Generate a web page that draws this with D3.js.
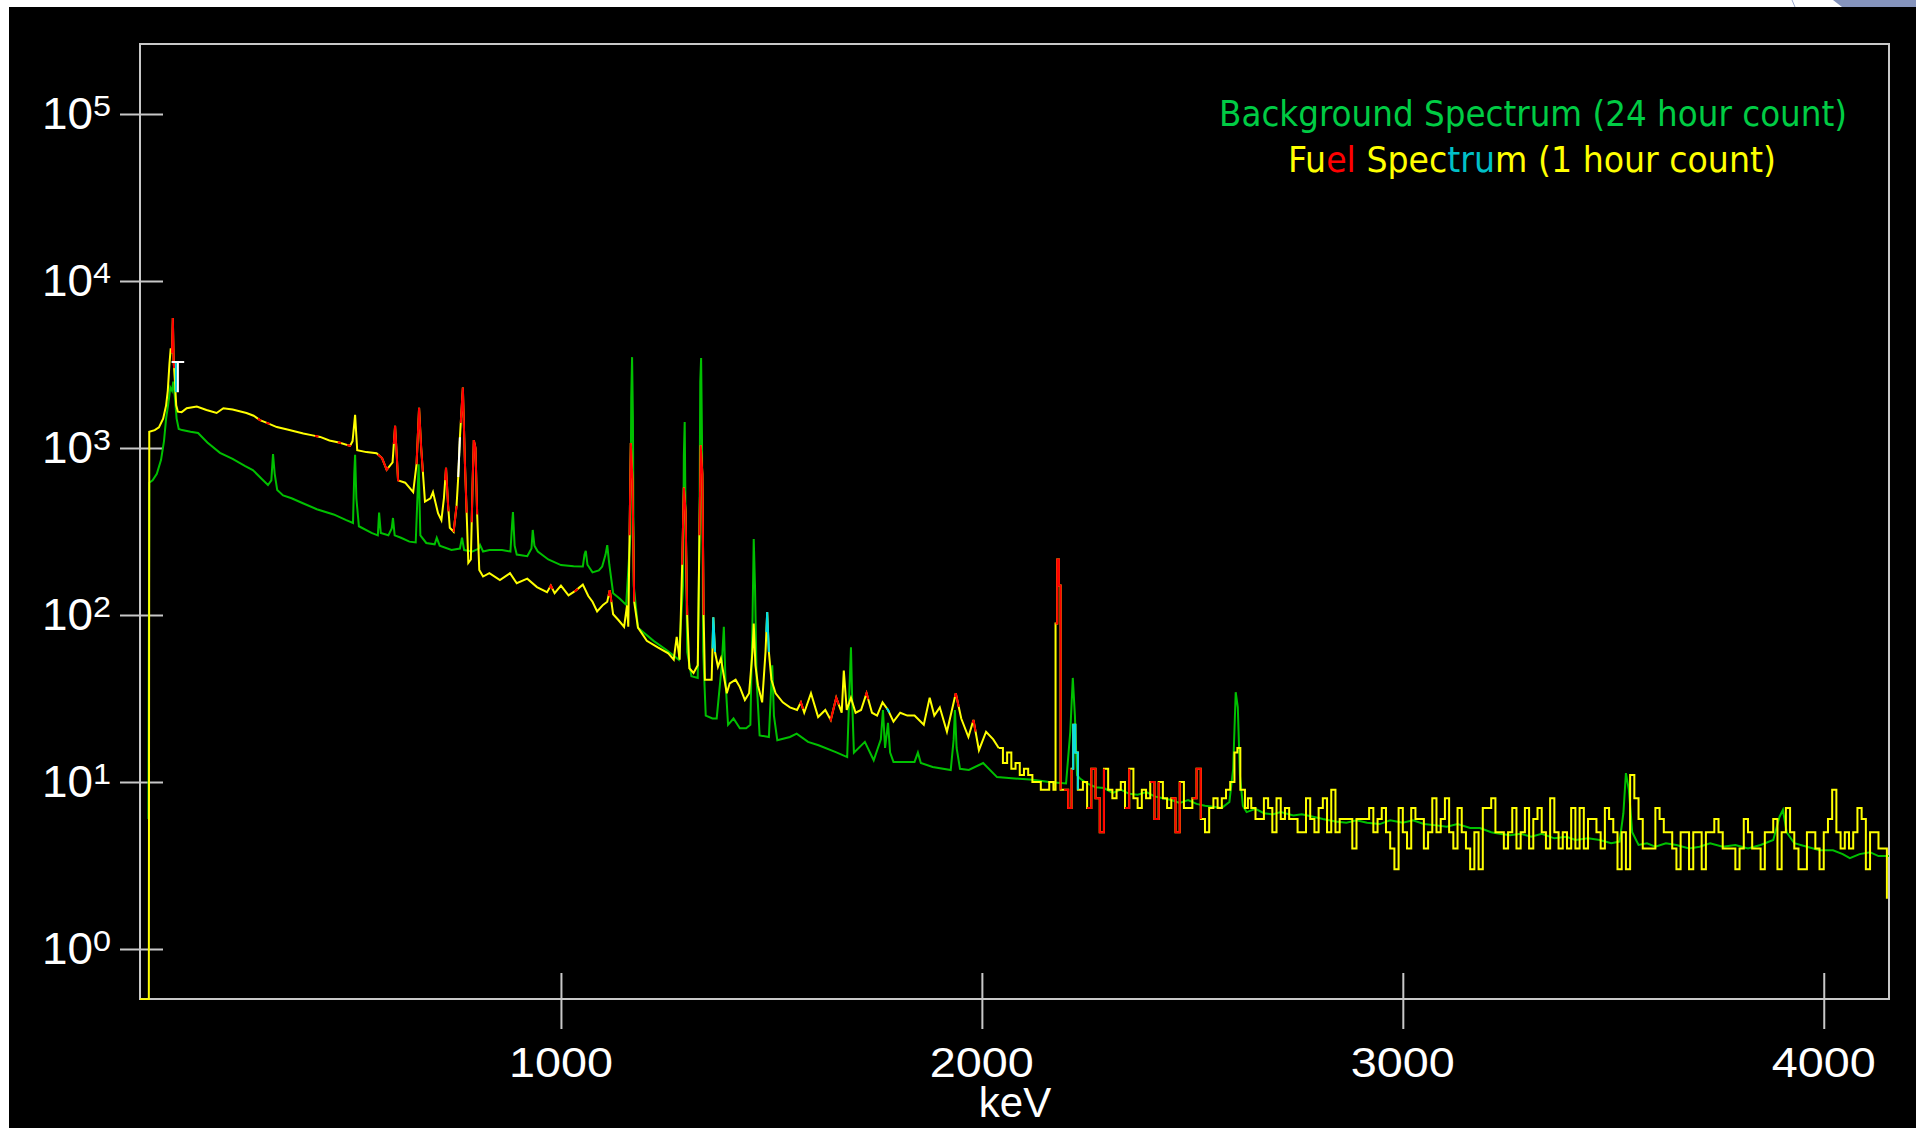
<!DOCTYPE html>
<html>
<head>
<meta charset="utf-8">
<script src="https://cdn.jsdelivr.net/npm/d3@7"></script>
<style>
  html, body { margin: 0; padding: 0; background: #ffffff; overflow: hidden; }
  svg { display: block; }
</style>
</head>
<body>
<div id="chart"></div>
<script>
// axis ticks
const xTicks = [1000, 2000, 3000, 4000]
const yExponents = [0, 1, 2, 3, 4, 5]
const xLabel = 'keV'

// legend
const legendBackground = 'Background Spectrum (24 hour count)'
const legendFuel = [
  ['Fu', 'yellow'], ['el', 'red'], [' Spec', 'yellow'], ['tru', 'cyan'], ['m (1 hour count)', 'yellow']
]

// background spectrum, [keV, counts]
const background = [
  [20, 6], [22, 620], [30, 640], [40, 700], [50, 850], [57, 1100], [62, 1500], [68, 1900], [72, 2300],
  [76, 2200], [79, 2500], [83, 2000], [87, 1500], [92, 1300], [100, 1280], [120, 1250], [138, 1230],
  [160, 1080], [190, 935], [220, 860], [250, 780], [268, 738], [290, 650], [304, 600], [312, 640],
  [316, 920], [320, 700], [326, 560], [340, 520], [360, 500], [387, 467], [420, 430], [460, 400],
  [490, 370], [506, 356], [509, 700], [511, 910], [514, 500], [520, 340], [550, 310], [565, 300],
  [568, 410], [572, 310], [590, 300], [598, 330], [601, 381], [605, 300], [620, 290], [640, 275],
  [655, 272], [659, 500], [662, 800], [666, 300], [680, 270], [700, 265], [705, 290], [712, 260],
  [740, 245], [760, 250], [765, 290], [770, 245], [790, 240], [805, 250], [808, 262], [815, 240],
  [830, 245], [860, 245], [880, 240], [884, 350], [886, 414], [890, 260], [895, 230], [920, 225],
  [930, 250], [933, 323], [937, 260], [945, 240], [970, 215], [1000, 199], [1030, 196], [1052, 195],
  [1056, 230], [1059, 242], [1063, 200], [1075, 180], [1090, 185], [1098, 195], [1106, 230], [1110, 262],
  [1115, 200], [1124, 135], [1140, 125], [1155, 115], [1165, 300], [1167, 2000], [1169, 3500],
  [1171, 1500], [1173, 150], [1183, 84], [1220, 70], [1250, 62], [1280, 54], [1290, 150], [1292, 900],
  [1294, 1430], [1296, 400], [1300, 60], [1310, 43], [1325, 42], [1329, 300], [1331, 2500], [1333, 3460],
  [1335, 1200], [1338, 60], [1344, 25], [1360, 24], [1370, 24], [1382, 50], [1387, 85], [1391, 40],
  [1397, 22], [1410, 24], [1425, 21], [1440, 21], [1450, 22], [1455, 90], [1458, 285], [1461, 150],
  [1465, 40], [1472, 19], [1494, 18.6], [1499, 35], [1502, 50], [1506, 25], [1514, 17.8], [1544, 18.6],
  [1560, 19.5], [1587, 17.4], [1612, 16.6], [1653, 15.1], [1680, 14.1], [1686, 40], [1689, 64],
  [1692, 30], [1696, 15], [1722, 17.4], [1743, 13.5], [1760, 18], [1765, 27], [1770, 16], [1777, 22.6],
  [1782, 15], [1790, 13.2], [1840, 13.2], [1848, 15], [1855, 13], [1883, 12.3], [1926, 11.8],
  [1933, 18], [1936, 27], [1940, 16], [1948, 12], [1969, 11.8], [2003, 13], [2036, 10.7], [2078, 10.5],
  [2121, 10.3], [2160, 10], [2200, 9.8], [2210, 20], [2216, 42], [2221, 25], [2226, 11], [2233, 10.5],
  [2250, 9.8], [2270, 9.3], [2290, 9.2], [2311, 8.6], [2330, 9.0], [2350, 8.5], [2370, 8.4], [2391, 8.7],
  [2410, 8.2], [2430, 8.0], [2450, 7.8], [2470, 7.5], [2490, 7.8], [2510, 7.4], [2530, 7.2], [2549, 7.1],
  [2570, 7.0], [2588, 7.6], [2597, 12], [2603, 34.5], [2608, 28], [2613, 11], [2620, 7.2], [2629, 6.6],
  [2650, 6.9], [2670, 6.5], [2690, 6.4], [2710, 6.6], [2740, 6.3], [2760, 6.4], [2787, 6.2], [2810, 6.0],
  [2840, 5.8], [2866, 5.7], [2890, 5.9], [2915, 5.7], [2945, 5.6], [2970, 5.9], [3000, 5.7], [3024, 5.9],
  [3050, 5.6], [3080, 5.5], [3104, 5.4], [3130, 5.6], [3160, 5.3], [3183, 5.3], [3210, 5.0], [3230, 4.9],
  [3255, 4.8], [3280, 4.9], [3305, 4.7], [3330, 4.9], [3360, 4.6], [3389, 4.7], [3410, 4.5], [3440, 4.6],
  [3468, 4.5], [3495, 4.3], [3515, 4.4], [3524, 6.5], [3530, 11.3], [3537, 9], [3545, 5], [3560, 4.2],
  [3580, 4.3], [3600, 4.1], [3625, 4.3], [3650, 4.2], [3680, 4.0], [3705, 4.1], [3730, 4.3], [3760, 4.1],
  [3790, 4.2], [3820, 4.0], [3850, 4.2], [3880, 4.5], [3895, 6.2], [3903, 6.8], [3912, 5.0], [3930, 4.3],
  [3960, 4.1], [3990, 3.9], [4022, 3.9], [4045, 3.7], [4062, 3.5], [4085, 3.7], [4110, 3.8], [4130, 3.6],
  [4155, 3.6]
]

// fuel spectrum up to 2632 keV, [keV, counts]
const fuel = [
  [0, 0.5], [21, 0.5], [22, 1250], [35, 1280], [45, 1330], [55, 1500], [62, 1800], [66, 2200], [70, 3200],
  [73, 3950], [76, 3700], [78, 6000], [80, 3300], [83, 2500], [86, 1800], [90, 1650], [99, 1640],
  [111, 1730], [135, 1770], [158, 1690], [182, 1620], [198, 1730], [220, 1700], [253, 1620], [270, 1560],
  [285, 1470], [300, 1420], [325, 1335], [350, 1290], [388, 1220], [410, 1190], [428, 1165], [450, 1110],
  [475, 1075], [499, 1030], [505, 1100], [511, 1580], [516, 970], [538, 945], [562, 930], [575, 870],
  [586, 740], [600, 820], [606, 1360], [610, 900], [613, 640], [630, 620], [649, 545], [657, 800],
  [663, 1740], [668, 1000], [677, 478], [690, 500], [696, 545], [708, 407], [716, 370], [722, 500],
  [727, 760], [732, 450], [736, 333], [745, 315], [752, 450], [756, 670], [760, 1160], [767, 2300],
  [772, 800], [776, 410], [780, 205], [786, 215], [790, 600], [793, 1115], [797, 1000], [801, 400],
  [806, 186], [815, 170], [830, 178], [855, 162], [879, 178], [895, 155], [920, 165], [943, 147],
  [967, 137], [976, 150], [985, 135], [1000, 150], [1018, 131], [1035, 140], [1052, 152], [1065, 130],
  [1075, 120], [1086, 105], [1100, 115], [1110, 120], [1116, 141], [1124, 101], [1137, 93], [1150, 85],
  [1157, 114], [1160, 85], [1163, 300], [1166, 1070], [1170, 640], [1174, 120], [1183, 84], [1204, 70],
  [1230, 64], [1255, 59], [1268, 54], [1275, 74], [1282, 54], [1288, 200], [1292, 580], [1296, 420],
  [1300, 100], [1305, 48], [1315, 45], [1325, 50], [1329, 300], [1332, 1040], [1336, 700], [1339, 100],
  [1342, 41], [1350, 41], [1358, 41], [1362, 97], [1366, 60], [1373, 49], [1380, 55], [1394, 34],
  [1401, 39], [1415, 41], [1425, 37], [1437, 31], [1447, 34], [1455, 60], [1458, 89], [1462, 50],
  [1468, 38], [1478, 30], [1486, 60], [1490, 104], [1494, 60], [1500, 41], [1510, 34], [1527, 30],
  [1544, 28], [1561, 27], [1570, 30], [1578, 26], [1594, 34], [1611, 24.5], [1628, 27], [1641, 23.5],
  [1654, 32], [1667, 26], [1672, 46.5], [1679, 27], [1689, 32], [1700, 26], [1713, 27], [1726, 34],
  [1739, 26], [1751, 25], [1764, 30], [1777, 27], [1790, 23], [1806, 26], [1823, 25], [1840, 25],
  [1862, 22], [1876, 32], [1887, 25], [1900, 28], [1917, 20], [1938, 34], [1951, 24], [1968, 18.6],
  [1980, 23.5], [1993, 15.5], [2010, 20], [2027, 18], [2040, 16], [2050, 13], [2060, 15], [2070, 12],
  [2080, 13], [2090, 11], [2100, 12], [2110, 11], [2120, 10], [2130, 10], [2140, 9], [2150, 9],
  [2160, 10], [2170, 9], [2175, 89], [2179, 215], [2183, 150], [2187, 9], [2195, 9], [2205, 7],
  [2213, 12], [2217, 22], [2222, 15], [2228, 9], [2240, 10], [2250, 7], [2260, 12], [2270, 8],
  [2280, 5], [2290, 12], [2300, 9], [2310, 8], [2320, 9], [2330, 10], [2340, 7], [2350, 12], [2360, 8],
  [2370, 7], [2380, 9], [2390, 8], [2400, 10], [2410, 6], [2420, 10], [2430, 8], [2440, 7], [2450, 8],
  [2460, 5], [2470, 10], [2480, 7], [2490, 7], [2500, 8], [2510, 12], [2520, 6], [2530, 5], [2540, 7],
  [2550, 8], [2560, 7], [2570, 8], [2580, 9], [2590, 10], [2600, 15], [2607, 16], [2614, 9], [2625, 7],
  [2632, 8]
]

// fuel spectrum tail: one count per 10 keV channel group from 2640 keV
const fuelTailStart = 2640
const fuelTailStep = 10
const fuelTail = [
  7, 6, 6, 8, 7, 5, 8, 6, 7, 6, 6, 5, 5, 8, 6, 5, 7, 8, 5, 9,
  5, 6, 6, 6, 4, 6, 6, 6, 7, 5, 6, 7, 5, 4, 3, 7, 5, 4, 7, 6,
  6, 4, 5, 8, 5, 6, 8, 5, 4, 7, 5, 4, 3, 5, 3, 7, 7, 8, 5,
  5, 4, 5, 7, 4, 5, 7, 4, 6, 7, 5, 4, 8, 5, 4, 5, 4, 7, 4, 7,
  4, 6, 6, 5, 4, 7, 6, 5, 3, 5, 3, 11, 8, 6, 4, 4, 4, 7, 6, 5,
  5, 4, 3, 5, 5, 3, 5, 5, 3, 5, 5, 6, 5, 4, 4, 4, 3, 4, 6, 5,
  4, 4, 3, 5, 5, 6, 3, 5, 7, 5, 4, 3, 3, 5, 5, 4, 3, 5, 6, 9,
  5, 4, 5, 4, 5, 7, 6, 3, 5, 5, 4, 4, 2
]

// above this energy the fuel trace is drawn as histogram steps
const stepFrom = 2040

// stretches of the fuel trace drawn in other colours, [fromKeV, toKeV]
const fuelRed = [
  [76, 81], [280, 288], [300, 308], [416, 424], [470, 478], [492, 500], [565, 590], [603, 616],
  [657, 672], [725, 733], [745, 752], [762, 776], [788, 801], [973, 980], [1032, 1040], [1113, 1120],
  [1163, 1174], [1288, 1300], [1329, 1339], [1568, 1575], [1639, 1660], [1724, 1730], [1936, 1945],
  [1978, 1985], [2175, 2187], [2200, 2210], [2250, 2290], [2340, 2350], [2400, 2415], [2450, 2465],
  [2505, 2515]
]
const fuelCyan = [[1360, 1366], [1488, 1494], [1774, 1780], [2213, 2228]]
const fuelWhite = [[756, 760]]

// analyser cursor near the x-ray peak
const cursor = { kev: 90, halfWidth: 15, low: 2160, high: 3270 }

const colors = {
  green: '#00c000',
  yellow: '#ffff00',
  red: '#ff0000',
  cyan: '#00dde6',
  white: '#ffffff',
  legendGreen: '#00cc44',
  legendCyan: '#00c0c8',
  frame: '#c8c8c8'
}

class SpectrumChart {
  constructor(target) {
    this.target = target
    this.width = 1916
    this.height = 1128
    this.frame = { left: 140, top: 44, right: 1889, bottom: 999 }
    this.fuelData = fuel.concat(fuelTail.map((c, i) => [fuelTailStart + i * fuelTailStep, c]))
    this.drawChart()
  }
  createSVG() {
    this.svg = d3.select(this.target)
      .append('svg')
      .attr('width', this.width)
      .attr('height', this.height)

    this.svg.append('rect')
      .attr('x', 9).attr('y', 7)
      .attr('width', this.width - 9).attr('height', this.height - 7)
      .attr('fill', '#000')

    // slide decoration in the top right corner
    this.svg.append('path')
      .attr('d', 'M1833,0 L1916,0 L1916,7 L1842,7 Z')
      .attr('fill', '#8594bd')
    this.svg.append('line')
      .attr('x1', 1792).attr('y1', 0).attr('x2', 1795).attr('y2', 7)
      .attr('stroke', '#9aaad0').attr('stroke-width', 1)
  }
  scales() {
    this.x = d3.scaleLinear()
      .domain([0, 4155])
      .range([this.frame.left, this.frame.right])
    this.y = d3.scaleLog()
      .domain([0.502, 262500])
      .range([this.frame.bottom, this.frame.top])
  }
  drawFrame() {
    const f = this.frame
    this.svg.append('rect')
      .attr('x', f.left).attr('y', f.top)
      .attr('width', f.right - f.left).attr('height', f.bottom - f.top)
      .attr('fill', 'none')
      .attr('stroke', colors.frame)
      .attr('stroke-width', 2)
  }
  X() {
    const g = this.svg.append('g')
      .attr('transform', `translate(0, ${this.frame.bottom - 26})`)
      .call(d3.axisBottom(this.x).tickValues(xTicks).tickSize(56).tickFormat(''))
    g.select('.domain').remove()
    g.selectAll('.tick line').attr('stroke', colors.frame).attr('stroke-width', 2)

    this.svg.append('g')
      .selectAll('text')
      .data(xTicks)
      .join('text')
      .attr('x', d => this.x(d))
      .attr('y', 1077)
      .attr('text-anchor', 'middle')
      .attr('font-family', '"Liberation Sans", Arial, sans-serif')
      .attr('font-size', 43)
      .attr('textLength', 104)
      .attr('lengthAdjust', 'spacingAndGlyphs')
      .attr('fill', '#fff')
      .text(d => d)

    this.svg.append('text')
      .attr('x', 1015)
      .attr('y', 1117)
      .attr('text-anchor', 'middle')
      .attr('font-family', '"Liberation Sans", Arial, sans-serif')
      .attr('font-size', 42)
      .attr('fill', '#fff')
      .text(xLabel)
  }
  Y() {
    const values = yExponents.map(e => Math.pow(10, e))
    const g = this.svg.append('g')
      .attr('transform', `translate(${this.frame.left + 23}, 0)`)
      .call(d3.axisLeft(this.y).tickValues(values).tickSize(43).tickFormat(''))
    g.select('.domain').remove()
    g.selectAll('.tick line').attr('stroke', colors.frame).attr('stroke-width', 2)

    const labels = this.svg.append('g')
      .selectAll('g')
      .data(yExponents)
      .join('g')
      .attr('transform', d => `translate(0, ${this.y(Math.pow(10, d))})`)
    labels.append('text')
      .attr('x', 42)
      .attr('y', 15)
      .attr('font-family', '"Liberation Sans", Arial, sans-serif')
      .attr('font-size', 45)
      .attr('textLength', 51)
      .attr('lengthAdjust', 'spacingAndGlyphs')
      .attr('fill', '#fff')
      .text('10')
    labels.append('text')
      .attr('x', 93)
      .attr('y', 2)
      .attr('font-family', '"Liberation Sans", Arial, sans-serif')
      .attr('font-size', 30)
      .attr('textLength', 18)
      .attr('lengthAdjust', 'spacingAndGlyphs')
      .attr('fill', '#fff')
      .text(d => d)
  }
  legend() {
    const font = '"DejaVu Sans Condensed", "Liberation Sans Narrow", "DejaVu Sans", sans-serif'
    this.svg.append('text')
      .attr('x', 1533).attr('y', 126)
      .attr('text-anchor', 'middle')
      .attr('font-family', font)
      .attr('font-size', 35)
      .attr('textLength', 628)
      .attr('lengthAdjust', 'spacingAndGlyphs')
      .attr('fill', colors.legendGreen)
      .text(legendBackground)

    const legendColor = { yellow: colors.yellow, red: colors.red, cyan: colors.legendCyan }
    this.svg.append('text')
      .attr('x', 1532).attr('y', 172)
      .attr('text-anchor', 'middle')
      .attr('font-family', font)
      .attr('font-size', 35)
      .attr('textLength', 488)
      .attr('lengthAdjust', 'spacingAndGlyphs')
      .attr('xml:space', 'preserve')
      .style('white-space', 'pre')
      .selectAll('tspan')
      .data(legendFuel)
      .join('tspan')
      .attr('fill', d => legendColor[d[1]])
      .text(d => d[0])
  }
  // value of the straight (log-space) trace at a given energy
  valueAt(data, kev) {
    const i = d3.bisector(d => d[0]).right(data, kev)
    if (i <= 0) return data[0][1]
    if (i >= data.length) return data[data.length - 1][1]
    const a = data[i - 1], b = data[i]
    const t = (kev - a[0]) / (b[0] - a[0])
    return Math.pow(10, Math.log10(a[1]) + t * (Math.log10(b[1]) - Math.log10(a[1])))
  }
  segment(data, from, to) {
    const inside = data.filter(d => d[0] > from && d[0] < to)
    if (from >= stepFrom) {
      const start = data.filter(d => d[0] <= from).pop()
      const next = data.find(d => d[0] >= to)
      return [start, ...inside, next].filter(Boolean)
    }
    return [[from, this.valueAt(data, from)], ...inside, [to, this.valueAt(data, to)]]
  }
  drawSpectra() {
    const f = this.frame
    this.svg.append('clipPath')
      .attr('id', 'plot-clip')
      .append('rect')
      .attr('x', f.left).attr('y', f.top)
      .attr('width', f.right - f.left + 1).attr('height', f.bottom - f.top + 1)

    const plot = this.svg.append('g').attr('clip-path', 'url(#plot-clip)')

    const line = d3.line()
      .x(d => this.x(d[0]))
      .y(d => this.y(d[1]))
    const stepLine = d3.line()
      .curve(d3.curveStepAfter)
      .x(d => this.x(d[0]))
      .y(d => this.y(d[1]))
    const fuelPath = pts => (pts[0][0] >= stepFrom ? stepLine : line)(pts)

    plot.append('path')
      .datum(background)
      .attr('fill', 'none')
      .attr('stroke', colors.green)
      .attr('stroke-width', 2)
      .attr('d', line)

    const head = this.fuelData.filter(d => d[0] <= stepFrom)
    const tail = this.fuelData.filter(d => d[0] >= stepFrom)
    plot.append('g')
      .selectAll('path')
      .data([head, tail])
      .join('path')
      .attr('fill', 'none')
      .attr('stroke', colors.yellow)
      .attr('stroke-width', 2)
      .attr('d', fuelPath)

    const overlays = [
      ...fuelRed.map(r => ({ range: r, color: colors.red })),
      ...fuelCyan.map(r => ({ range: r, color: colors.cyan })),
      ...fuelWhite.map(r => ({ range: r, color: colors.white }))
    ]
    plot.append('g')
      .selectAll('path')
      .data(overlays)
      .join('path')
      .attr('fill', 'none')
      .attr('stroke', d => d.color)
      .attr('stroke-width', 2)
      .attr('d', d => fuelPath(this.segment(this.fuelData, d.range[0], d.range[1])))

    // cursor mark
    const cx = this.x(cursor.kev)
    plot.append('line')
      .attr('x1', cx - 2).attr('x2', cx - 2)
      .attr('y1', this.y(cursor.high)).attr('y2', this.y(cursor.low))
      .attr('stroke', colors.cyan).attr('stroke-width', 2)
    plot.append('path')
      .attr('d', `M${this.x(cursor.kev - cursor.halfWidth)},${this.y(cursor.high)}H${this.x(cursor.kev + cursor.halfWidth)}M${cx},${this.y(cursor.high)}V${this.y(cursor.low)}`)
      .attr('fill', 'none')
      .attr('stroke', colors.white)
      .attr('stroke-width', 2)
  }
  drawChart() {
    this.createSVG()
    this.scales()
    this.drawFrame()
    this.X()
    this.Y()
    this.drawSpectra()
    this.legend()
  }
}

new SpectrumChart(document.getElementById('chart'))
</script>
</body>
</html>
